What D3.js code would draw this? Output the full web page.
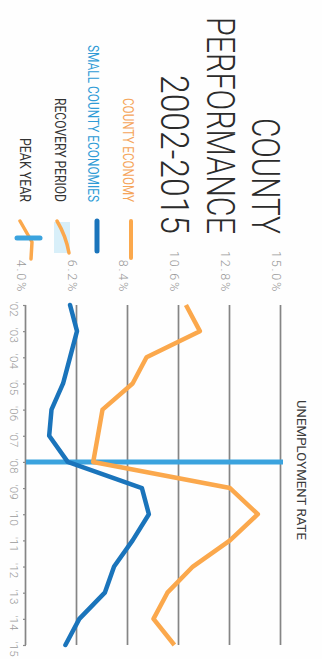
<!DOCTYPE html>
<html>
<head>
<meta charset="utf-8">
<script src="https://cdn.jsdelivr.net/npm/d3@7"></script>
<style>
  html, body { margin: 0; padding: 0; background: #ffffff; }
  svg { display: block; }
</style>
</head>
<body>
<svg id="chart" width="322" height="659"></svg>
<script>
// ---- data ----
const years = [2002, 2003, 2004, 2005, 2006, 2007, 2008, 2009, 2010, 2011, 2012, 2013, 2014, 2015];
const yearLabels = ["'02", "'03", "'04", "'05", "'06", "'07", "'08", "'09", "'10", "'11", "'12", "'13", "'14", "'15"];
const countyEconomy = [10.9, 11.5, 9.2, 8.6, 7.3, 7.1, 6.9, 12.8, 14.0, 12.8, 11.2, 10.1, 9.5, 10.4];
const smallCountyEconomies = [5.9, 6.2, 5.9, 5.6, 5.1, 5.0, 5.8, 9.0, 9.3, 8.6, 7.8, 7.4, 6.3, 5.7];
const rateTicks = [4.0, 6.2, 8.4, 10.6, 12.8, 15.0];
const peakYear = 2008;
const titleLines = ["COUNTY", "PERFORMANCE", "2002-2015"];
const legendItems = ["COUNTY ECONOMY", "SMALL COUNTY ECONOMIES", "RECOVERY PERIOD", "PEAK YEAR"];
const axisTitle = "UNEMPLOYMENT RATE";

// ---- styles ----
const ORANGE = "#fba84c";
const BLUE = "#1a74bb";
const PEAK_BLUE = "#3ba3de";

const svg = d3.select("#chart");
svg.append("rect").attr("width", 322).attr("height", 659).attr("fill", "#fefefe");

// whole chart drawn in a landscape frame, rotated 90deg clockwise
const g = svg.append("g").attr("transform", "translate(322,0) rotate(90)");

const x = d3.scaleLinear().domain([2002, 2015]).range([305, 645]);
const y = d3.scaleLinear().domain([4.0, 15.0]).range([296, 41]);

// title
const titleSpecs = [
  { v: 70, len: 116 },
  { v: 115, len: 217 },
  { v: 161, len: 159 }
];
g.selectAll("text.title").data(titleLines).join("text")
  .attr("class", "title")
  .attr("x", 234)
  .attr("y", (d, i) => titleSpecs[i].v)
  .attr("text-anchor", "end")
  .attr("textLength", (d, i) => titleSpecs[i].len)
  .attr("lengthAdjust", "spacingAndGlyphs")
  .attr("font-family", "Roboto, 'Open Sans', sans-serif")
  .attr("font-weight", 300)
  .attr("font-size", 38)
  .attr("fill", "#2b2b2b")
  .text(d => d);

// legend
const legendSpecs = [
  { v: 199, len: 104, color: "#f5a55a" },
  { v: 234, len: 157, color: "#2f9bd6" },
  { v: 267, len: 104, color: "#333" },
  { v: 302, len: 64, color: "#333" }
];
g.selectAll("text.legend").data(legendItems).join("text")
  .attr("class", "legend")
  .attr("x", 202)
  .attr("y", (d, i) => legendSpecs[i].v)
  .attr("text-anchor", "end")
  .attr("textLength", (d, i) => legendSpecs[i].len)
  .attr("lengthAdjust", "spacingAndGlyphs")
  .attr("font-family", "Roboto, sans-serif")
  .attr("font-weight", 400)
  .attr("font-size", 15)
  .attr("fill", (d, i) => legendSpecs[i].color)
  .text(d => d);

// legend icons
g.append("line").attr("x1", 221).attr("x2", 258).attr("y1", 191).attr("y2", 191)
  .attr("stroke", ORANGE).attr("stroke-width", 4).attr("stroke-linecap", "round");
g.append("line").attr("x1", 221).attr("x2", 251).attr("y1", 225).attr("y2", 225)
  .attr("stroke", BLUE).attr("stroke-width", 5).attr("stroke-linecap", "round");
g.append("rect").attr("x", 222).attr("y", 252).attr("width", 31).attr("height", 16)
  .attr("fill", "#d8eff9");
g.append("path").attr("d", "M221,265 Q236,256 253,253")
  .attr("fill", "none").attr("stroke", ORANGE).attr("stroke-width", 3.5).attr("stroke-linecap", "round");
g.append("path").attr("d", "M221,302 L242,290 L259,291")
  .attr("fill", "none").attr("stroke", ORANGE).attr("stroke-width", 3.5).attr("stroke-linejoin", "round").attr("stroke-linecap", "round");
g.append("line").attr("x1", 238).attr("x2", 238).attr("y1", 282).attr("y2", 305)
  .attr("stroke", PEAK_BLUE).attr("stroke-width", 5).attr("stroke-linecap", "round");

// rate axis with gridlines
const yAxis = g.append("g").attr("transform", "translate(305,0)")
  .call(d3.axisLeft(y).tickValues(rateTicks).tickSize(-340).tickPadding(12)
    .tickFormat(d => d.toFixed(1) + "%"));
yAxis.select(".domain").remove();
yAxis.selectAll(".tick line").attr("stroke", "#858585").attr("stroke-width", 1.7);
yAxis.selectAll(".tick text")
  .attr("dy", "0.72em")
  .attr("font-family", "Roboto, sans-serif")
  .attr("font-weight", 300)
  .attr("font-size", 12.5)
  .attr("letter-spacing", 1.8)
  .attr("fill", "#9a9a9a");

// year axis
const xAxis = g.append("g").attr("transform", "translate(0,296)")
  .call(d3.axisBottom(x).tickValues(years).tickSize(3).tickPadding(5)
    .tickFormat((d, i) => yearLabels[i]));
xAxis.select(".domain").remove();
xAxis.selectAll(".tick line").attr("stroke", "#8a8a8a").attr("stroke-width", 1.2);
xAxis.selectAll(".tick text")
  .attr("text-anchor", "start")
  .attr("x", -4)
  .attr("font-family", "Roboto, sans-serif")
  .attr("font-weight", 300)
  .attr("font-size", 11.5)
  .attr("letter-spacing", 0.2)
  .attr("fill", "#9a9a9a");

// axis title
g.append("text")
  .attr("x", 470).attr("y", 25)
  .attr("text-anchor", "middle")
  .attr("textLength", 140)
  .attr("lengthAdjust", "spacingAndGlyphs")
  .attr("font-family", "Roboto, sans-serif")
  .attr("font-size", 12)
  .attr("fill", "#3a3a3a")
  .text(axisTitle);

// peak year line
g.append("line")
  .attr("x1", x(peakYear)).attr("x2", x(peakYear))
  .attr("y1", y(4.0)).attr("y2", y(15.0) - 2)
  .attr("stroke", PEAK_BLUE).attr("stroke-width", 5);

// series lines
const line = d3.line().x((d, i) => x(years[i])).y(d => y(d));
g.append("path").datum(countyEconomy)
  .attr("d", line).attr("fill", "none")
  .attr("stroke", ORANGE).attr("stroke-width", 4.5).attr("stroke-linejoin", "round");
g.append("path").datum(smallCountyEconomies)
  .attr("d", line).attr("fill", "none")
  .attr("stroke", BLUE).attr("stroke-width", 4.5).attr("stroke-linejoin", "round").attr("stroke-linecap", "round");
</script>
</body>
</html>
